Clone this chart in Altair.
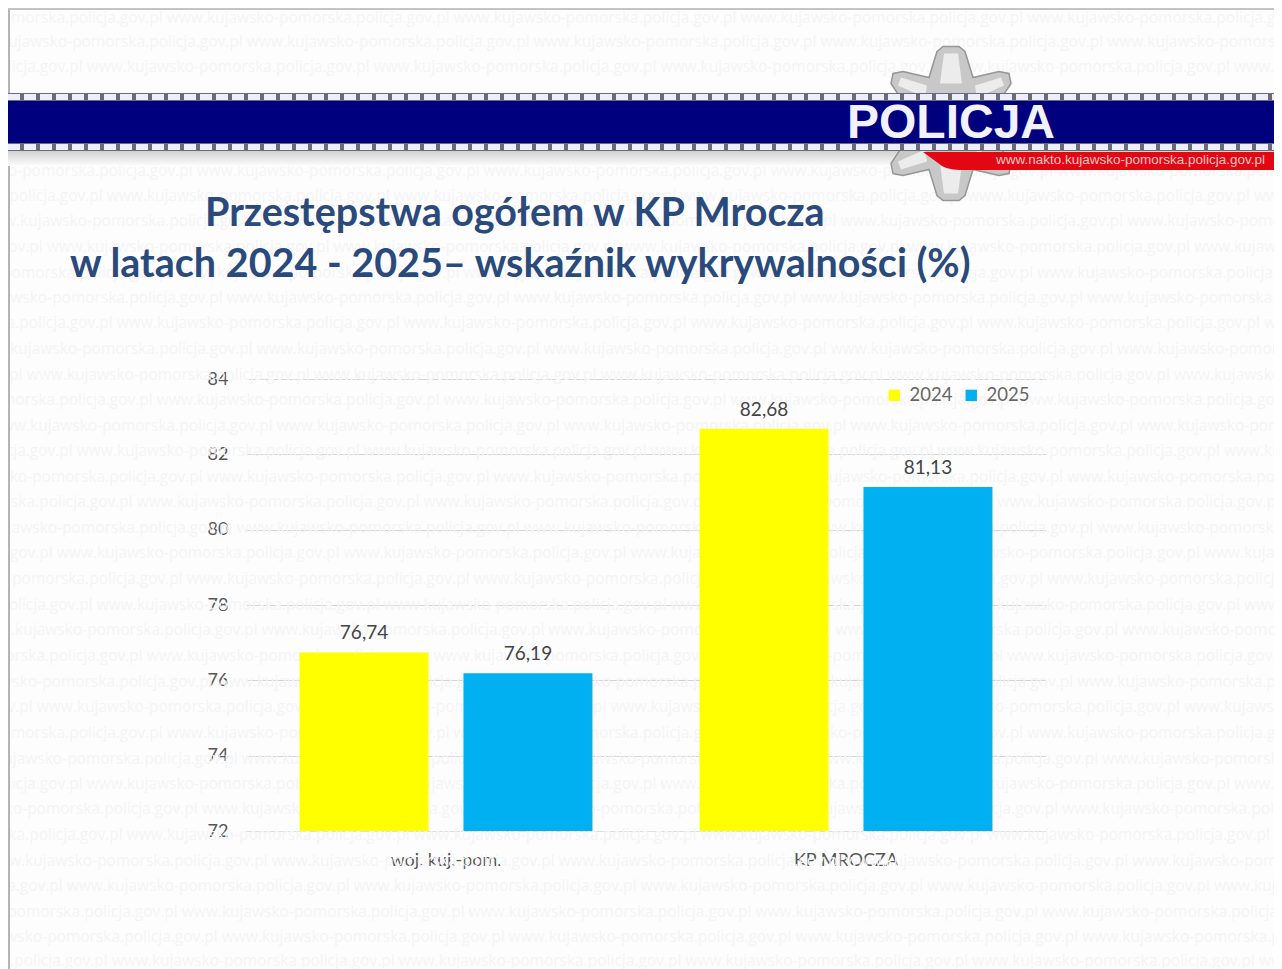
import altair as alt
import pandas as pd

# ---- chart values ----
categories = ["woj. kuj.-pom.", "KP MROCZA"]
years = ["2024", "2025"]
values_2024 = [76.74, 82.68]
values_2025 = [76.19, 81.13]
y_ticks = [72, 74, 76, 78, 80, 82, 84]
colors = ["#ffff00", "#00b0f0"]

title_1 = "Przestępstwa ogółem w KP Mrocza"
title_2 = "w latach 2024 - 2025– wskaźnik wykrywalności (%)"
logo_text = "POLICJA"
url_text = "www.nakto.kujawsko-pomorska.policja.gov.pl"
phrase = "www.kujawsko-pomorska.policja.gov.pl  "

# watermark rows: page y and start x
wm_y = [17, 41, 66, 170, 195, 220, 246, 272, 297, 322, 348, 374, 399, 425, 450, 476, 501, 527, 552,
        578, 604, 629, 655, 681, 706, 732, 758, 783, 808, 834, 860, 885, 911, 936, 960]
wm_x = [-120, -40, -200, -90, -180, -20, -240, -110, -60, -170, -30, -260, -130, -10, -210, -80, -150,
        -50, -230, -100, -190, -25, -140, -70, -250, -120, -45, -200, -85, -160, -15, -220, -105, -65, -175]

rows = []
for c, a, b in zip(categories, values_2024, values_2025):
    rows.append({"cat": c, "year": years[0], "v": a, "lab": f"{a:.2f}".replace(".", ",")})
    rows.append({"cat": c, "year": years[1], "v": b, "lab": f"{b:.2f}".replace(".", ",")})
df = pd.DataFrame(rows)

PAD_L, PAD_T, W, H = 238, 371, 800, 452
TOTAL_W, TOTAL_H = 1266, 961
X0, Y0 = 8 + PAD_L, 8 + PAD_T
one = alt.Data(values=[{"a": 1}])


def px(x):
    return alt.value(x - X0)


def py(y):
    return alt.value(y - Y0)


def rect(x1, x2, y1, y2, color):
    return alt.Chart(one).mark_rect(color=color).encode(x=px(x1), x2=px(x2), y=py(y1), y2=py(y2))


def rule(x1, x2, y, color, width, dash=None):
    kw = {"strokeDash": dash} if dash else {}
    return alt.Chart(one).mark_rule(color=color, strokeWidth=width, **kw).encode(
        x=px(x1), x2=px(x2), y=py(y))


def vrule(x, y1, y2, color, width):
    return alt.Chart(one).mark_rule(color=color, strokeWidth=width).encode(x=px(x), y=py(y1), y2=py(y2))


def label(text, x, y, size, color, weight="normal", font="Lato", align="left", opacity=1.0):
    return alt.Chart(one).mark_text(
        text=text, fontSize=size, color=color, fontWeight=weight, font=font,
        align=align, baseline="alphabetic", opacity=opacity
    ).encode(x=px(x), y=py(y))


def shape(path, x, y, fill, stroke=None, width=0, opacity=1.0):
    kw = {"stroke": stroke, "strokeWidth": width} if stroke else {"strokeWidth": 0}
    return alt.Chart(one).mark_point(
        shape=path, size=4, filled=True, fill=fill, opacity=opacity, **kw
    ).encode(x=px(x), y=py(y))


watermark = [
    label((phrase * 6), x, y + 6, 15.5, "#f4f4f6", font="Open Sans")
    for x, y in zip(wm_x, wm_y)
]

frame = [
    vrule(9, 8, 969, "#b4b4b4", 2),
    rule(8, 1282, 9, "#c4c4c4", 2),
]

shadow = alt.Chart(one).mark_rect(
    color=alt.Gradient(gradient="linear", x1=0, y1=0, x2=0, y2=1,
                       stops=[alt.GradientStop(color="#cfcfcf", offset=0),
                              alt.GradientStop(color="#fdfdfd", offset=1)])
).encode(x=px(8), x2=px(1282), y=py(150), y2=py(166))

STAR = ("M-14,-72 L-8,-77 L8,-77 L14,-72 L22,-46 L48,-52 L58,-50 L60,-40 L52,-28 L42,0 "
        "L52,28 L60,40 L58,50 L48,52 L22,46 L14,72 L8,77 L-8,77 L-14,72 L-22,46 L-48,52 "
        "L-58,50 L-60,40 L-52,28 L-42,0 L-52,-28 L-60,-40 L-58,-50 L-48,-52 L-22,-46 Z")
STAR_IN = ("M-7,-70 L7,-70 L11,-40 L-11,-40 Z M50,-46 L53,-38 L26,-26 L24,-38 Z "
           "M-50,-46 L-53,-38 L-26,-26 L-24,-38 Z M-7,70 L7,70 L11,40 L-11,40 Z "
           "M50,46 L53,38 L26,26 L24,38 Z M-50,46 L-53,38 L-26,26 L-24,38 Z")
RED = "M923,152 L1282,152 L1282,170 L960,170 Q945,170 938,163 Z"

logo = [
    shadow,
    shape(STAR, 951, 123.5, "#c8c8c8", "#969696", 1.5),
    shape(STAR_IN, 951, 123.5, "#ececec"),
    rule(8, 1282, 97, "#6b6b78", 8),
    rule(8, 1282, 97, "#eceefb", 6, [12, 4]),
    rule(8, 1282, 147, "#6b6b78", 8),
    rule(8, 1282, 147, "#eceefb", 6, [12, 4]),
    rect(8, 1282, 101, 143, "#00007f"),
    shape(RED, 0, 0, "#e30613"),
    label(logo_text, 847, 138, 48, "#f2f2ff", "bold", "Liberation Sans"),
    label(url_text, 996, 164, 13.5, "#f7c6c6", "normal", "Liberation Sans"),
]

titles = [
    label(title_1, 205, 226, 39.5, "#2a4a7c", "bold"),
    label(title_2, 70, 277, 39.5, "#2a4a7c", "bold"),
]

x_enc = alt.X("cat:N", sort=categories, title=None,
              scale=alt.Scale(paddingInner=0.18, paddingOuter=0.09),
              axis=alt.Axis(labelAngle=0, labelFontSize=18, labelColor="#555555", labelFont="Lato",
                            labelPadding=20, ticks=False, domainColor="#dddddd"))
xo_enc = alt.XOffset("year:N", sort=years, scale=alt.Scale(paddingInner=0.213, paddingOuter=0.107))
y_enc = alt.Y("v:Q", title=None,
              scale=alt.Scale(domain=[72, 84], nice=False, zero=False),
              axis=alt.Axis(values=y_ticks, labelFontSize=18, labelColor="#555555", labelFont="Lato",
                            labelPadding=18, ticks=False, domain=False, grid=True, gridColor="#d4d4d4"))

bars = alt.Chart(df).mark_bar(clip=True).encode(
    x=x_enc, xOffset=xo_enc, y=y_enc,
    color=alt.Color("year:N", sort=years, scale=alt.Scale(domain=years, range=colors),
                    legend=alt.Legend(orient="none", legendX=639, legendY=7, direction="horizontal",
                                      title=None, symbolType="square", symbolSize=130,
                                      symbolStrokeWidth=0, labelFontSize=18.5, labelColor="#666666",
                                      labelFont="Lato", columnPadding=9, labelOffset=6)),
)
texts = alt.Chart(df).mark_text(dy=-19, baseline="middle", fontSize=19,
                                color="#444444", font="Lato").encode(
    x=alt.X("cat:N", sort=categories), xOffset=alt.XOffset("year:N", sort=years),
    y=alt.Y("v:Q"), text="lab:N")

chart = alt.layer(*watermark, *frame, *logo, *titles, bars, texts).properties(
    width=W, height=H, background="#fdfdfd",
    autosize=alt.AutoSizeParams(type="none"),
    padding={"left": PAD_L, "top": PAD_T, "right": TOTAL_W - PAD_L - W, "bottom": TOTAL_H - PAD_T - H},
).configure_view(stroke=None)

chart.save("out.html", embed_options={"renderer": "svg", "actions": False})
